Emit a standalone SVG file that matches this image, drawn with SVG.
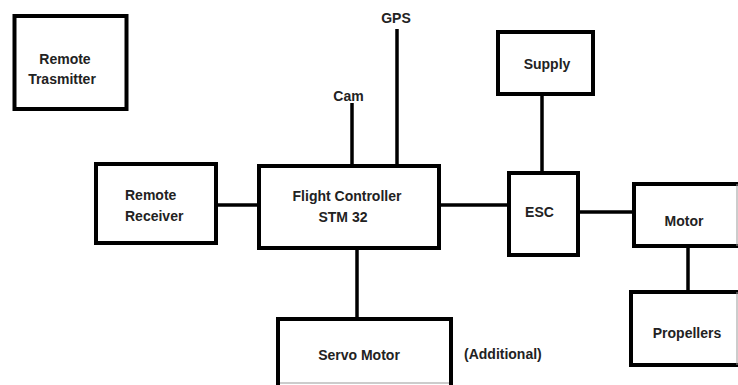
<svg xmlns="http://www.w3.org/2000/svg" width="738" height="385" viewBox="0 0 738 385">
<style>
.box{fill:#fff;stroke:#000;stroke-width:4}
.thin{fill:none;stroke:#999;stroke-width:1}
.conn line{stroke:#000;stroke-width:3.5}
text{font-family:"Liberation Sans",Arial,sans-serif;font-weight:bold;font-size:14px;fill:#222}
.m{text-anchor:middle}
</style>
<rect width="738" height="385" fill="#fff"/>
<g id="connectors" class="conn">
<line x1="218" y1="205" x2="258" y2="205"/>
<line x1="352" y1="103" x2="352" y2="165"/>
<line x1="397" y1="29" x2="397" y2="165"/>
<line x1="440" y1="205" x2="508" y2="205"/>
<line x1="542" y1="95" x2="542" y2="172"/>
<line x1="579" y1="212" x2="633" y2="212"/>
<line x1="688" y1="247" x2="688" y2="291"/>
<line x1="357" y1="249" x2="357" y2="318"/>
</g>
<g id="remote-transmitter">
<rect class="box" x="14.5" y="16" width="112" height="93"/>
<text class="m" x="65" y="63.5">Remote</text>
<text class="m" x="62" y="83.5">Trasmitter</text>
</g>
<g id="remote-receiver">
<rect class="box" x="96" y="164" width="120" height="79"/>
<text x="125" y="199.5">Remote</text>
<text x="125" y="221">Receiver</text>
</g>
<g id="flight-controller">
<rect class="box" x="259" y="166" width="180" height="82"/>
<text class="m" x="347" y="200.5">Flight Controller</text>
<text class="m" x="343" y="221.5">STM 32</text>
</g>
<g id="cam"><text class="m" x="348.5" y="100.5">Cam</text></g>
<g id="gps"><text class="m" x="396" y="23">GPS</text></g>
<g id="supply">
<rect class="box" x="498" y="32" width="95" height="62"/>
<text class="m" x="547" y="68.5">Supply</text>
</g>
<g id="esc">
<rect class="box" x="509" y="173" width="69" height="82"/>
<text class="m" x="539.5" y="216.5">ESC</text>
</g>
<g id="motor">
<rect class="box" x="634" y="184" width="110" height="62"/>
<line class="thin" x1="737" y1="184" x2="737" y2="246"/>
<text class="m" x="684" y="225.5">Motor</text>
</g>
<g id="propellers">
<rect class="box" x="631" y="292" width="113" height="73"/>
<line class="thin" x1="737" y1="292" x2="737" y2="365"/>
<text class="m" x="687" y="337.5">Propellers</text>
</g>
<g id="servo-motor">
<rect class="box" x="278" y="319" width="173" height="80"/>
<line class="thin" x1="280" y1="383" x2="449" y2="383"/>
<text class="m" x="359" y="359.5">Servo Motor</text>
</g>
<g id="additional"><text x="464" y="358.5">(Additional)</text></g>
</svg>
